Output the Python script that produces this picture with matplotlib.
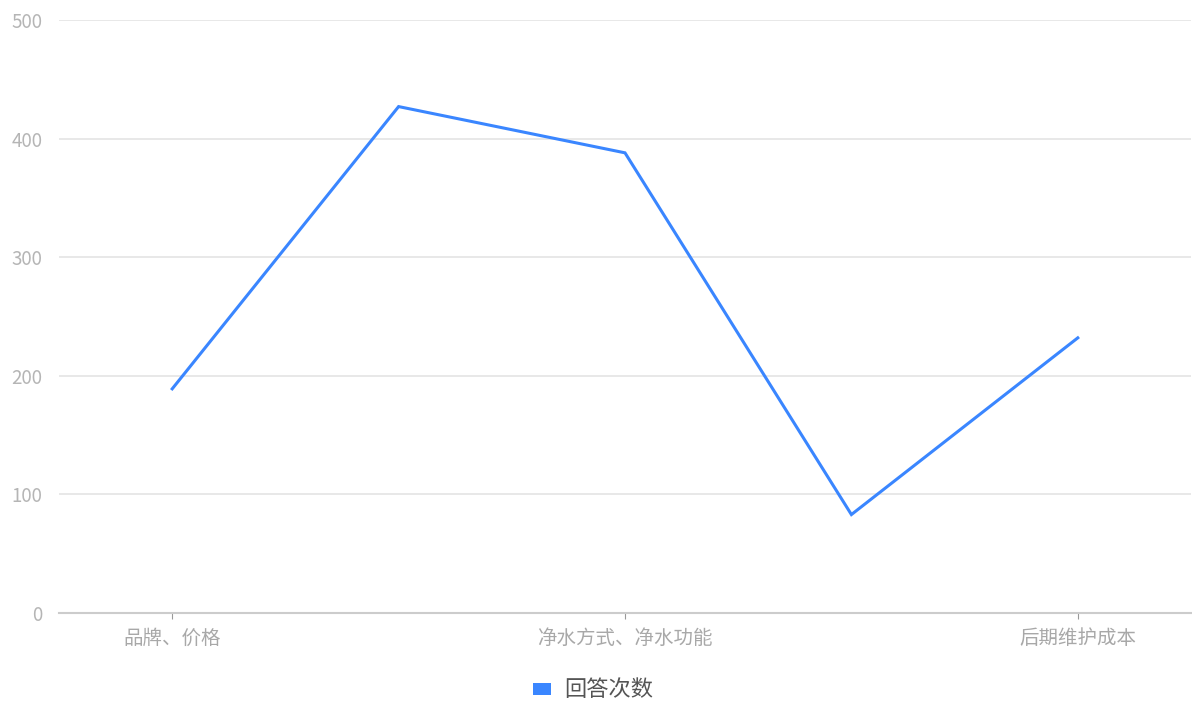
import matplotlib.pyplot as plt
from matplotlib.patches import Patch

plt.rcParams['font.family'] = ['Noto Sans CJK SC', 'DejaVu Sans']

categories = ["品牌、价格", "售后服务", "净水方式、净水功能", "安装方式", "后期维护成本"]
answers = [189, 427, 388, 83, 232]
y_ticks = [0, 100, 200, 300, 400, 500]
series_name = "回答次数"

fig = plt.figure(figsize=(11.92, 7.06), dpi=100)
ax = fig.add_axes([59 / 1192, 93 / 706, 1132 / 1192, 593 / 706])

x = list(range(len(categories)))
ax.plot(x, answers, color="#3a86ff", linewidth=2.2, solid_joinstyle="miter")

ax.set_xlim(-0.5, len(categories) - 0.5)
ax.set_ylim(0, 500)
ax.set_yticks(y_ticks)
ax.grid(axis="y", color="#e8e8e8", linewidth=1.4)
ax.set_axisbelow(True)

# only every other category label fits, like the original
shown = x[::2]
ax.set_xticks(shown)
ax.set_xticklabels([categories[i] for i in shown], fontsize=14, color="#a8a8a8")
ax.tick_params(axis="x", length=4, color="#999999", width=0.8, pad=7)
ax.tick_params(axis="y", length=0, pad=12, labelsize=13.5, labelcolor="#b5b5b5")

for side in ["top", "right", "left"]:
    ax.spines[side].set_visible(False)
ax.spines["bottom"].set_color("#cccccc")
ax.spines["bottom"].set_linewidth(1.5)

handle = Patch(facecolor="#3a86ff", edgecolor="none", label=series_name)
fig.legend(handles=[handle], loc="center", bbox_to_anchor=(593 / 1192, 16 / 706),
           frameon=False, fontsize=16, handlelength=0.8, handleheight=0.45,
           handletextpad=0.6, labelcolor="#555555")

fig.savefig("out.png", dpi=100)
